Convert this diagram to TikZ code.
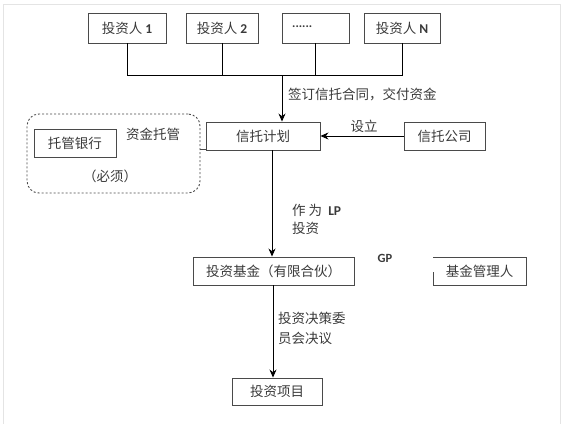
\documentclass[tikz,border=0pt]{standalone}
\usepackage{fontspec}
\usepackage{xcolor}
\usepackage{tikz}
\usetikzlibrary{calc, positioning, arrows.meta}
\setmainfont{Noto Sans CJK SC}
\newfontfamily\latfont{Carlito}

\definecolor{boxline}{HTML}{4A4A4A}
\definecolor{boxtext}{HTML}{3A3A3A}
\definecolor{framegray}{HTML}{E4E4E4}

\tikzset{
    box/.style={draw=boxline, line width=0.9pt, text=boxtext, inner sep=0pt,
        font=\fontsize{13.5}{16}\selectfont},
    lab/.style={text=boxtext, inner sep=0pt, font=\fontsize{13.5}{16}\selectfont},
    latin/.style={text=boxtext, inner sep=0pt, font=\latfont\bfseries\fontsize{12.5}{14}\selectfont},
    link/.style={draw=black, line width=0.9pt}
}

\begin{document}
\begin{tikzpicture}[>={Stealth[length=8pt, width=7pt]}, x=1pt, y=-1pt]

    % =================================================================
    % 1. KHUNG NGOÀI
    % =================================================================
    \useasboundingbox (0,0) rectangle (566,424);
    \draw[framegray, line width=0.8pt] (3,424) -- (3,4) -- (560,4) -- (560,424);

    % =================================================================
    % 2. NHÀ ĐẦU TƯ
    % =================================================================
    \node[box, minimum width=78pt, minimum height=30pt] (inv1) at (127,28)
        {投资人 {\latfont\bfseries 1}};
    \node[box, minimum width=72pt, minimum height=30pt] (inv2) at (222,28)
        {投资人 {\latfont\bfseries 2}};
    \node[box, minimum width=67pt, minimum height=30pt] (invdots) at (315.5,28) {};
    \node[latin, anchor=west] (dotslab) at (292,27) {......};
    \node[box, minimum width=76pt, minimum height=30pt] (invN) at (402,28)
        {投资人 {\latfont\bfseries N}};

    \coordinate (bus) at (282,75);
    \draw[link] (inv1.south) |- (invN.south |- bus) -- (invN.south);
    \draw[link] (inv2.south) -- (inv2.south |- bus);
    \draw[link] (invdots.south) -- (invdots.south |- bus);

    % =================================================================
    % 3. KẾ HOẠCH ỦY THÁC
    % =================================================================
    \node[box, minimum width=114pt, minimum height=28pt] (trust) at (263,136) {信托计划};
    \node[box, minimum width=81pt, minimum height=28pt] (trustco) at (444.5,136) {信托公司};

    \draw[link, ->] (bus) -- (bus |- trust.north);
    \node[lab, anchor=west] (signlab) at (288,94) {签订信托合同，交付资金};

    \draw[link, ->] (trustco.west) -- (trust.east);
    \node[lab] (setlab) at (364,126) {设立};

    % Ngân hàng lưu ký (khung nét đứt)
    \node[draw=boxline, dash pattern=on 2pt off 2pt, line width=0.9pt, rounded corners=12pt,
        minimum width=173pt, minimum height=79pt] (custody) at (113.5,153.5) {};
    \node[box, minimum width=82pt, minimum height=28pt] (bank) at (75,143) {托管银行};
    \node[lab] (custlab) at (153,134) {资金托管};
    \node[lab] (mustlab) at (110,176) {（必须）};
    \draw[link, draw=boxline] (custody.east |- 0,149) -- (trust.west |- 0,149);

    % =================================================================
    % 4. QUỸ ĐẦU TƯ
    % =================================================================
    \node[box, minimum width=161pt, minimum height=28pt] (fund) at (273.5,271)
        {投资基金（有限合伙）};
    \draw[link, ->] (trust.south -| 272,0) -- (fund.north -| 272,0);
    \node[lab, anchor=west] (lplab) at (292,210) {作\ 为\ \ {\latfont\bfseries LP}};
    \node[lab, anchor=west] (invlab) at (292,228) {投资};

    \node[latin] (gplab) at (385,258) {GP};
    \node[lab] (manager) at (479.5,271) {基金管理人};
    \draw[boxline, line width=0.9pt] (433,272) -- (433,285) -- (526,285)
        -- (526,257) -- (433,257);

    % =================================================================
    % 5. DỰ ÁN ĐẦU TƯ
    % =================================================================
    \node[box, minimum width=90pt, minimum height=27pt] (project) at (277,391.5) {投资项目};
    \draw[link, ->] (fund.south -| 273,0) -- (project.north -| 273,0);
    \node[lab, anchor=west] (declab1) at (278,318) {投资决策委};
    \node[lab, anchor=west] (declab2) at (278,338) {员会决议};

\end{tikzpicture}
\end{document}
